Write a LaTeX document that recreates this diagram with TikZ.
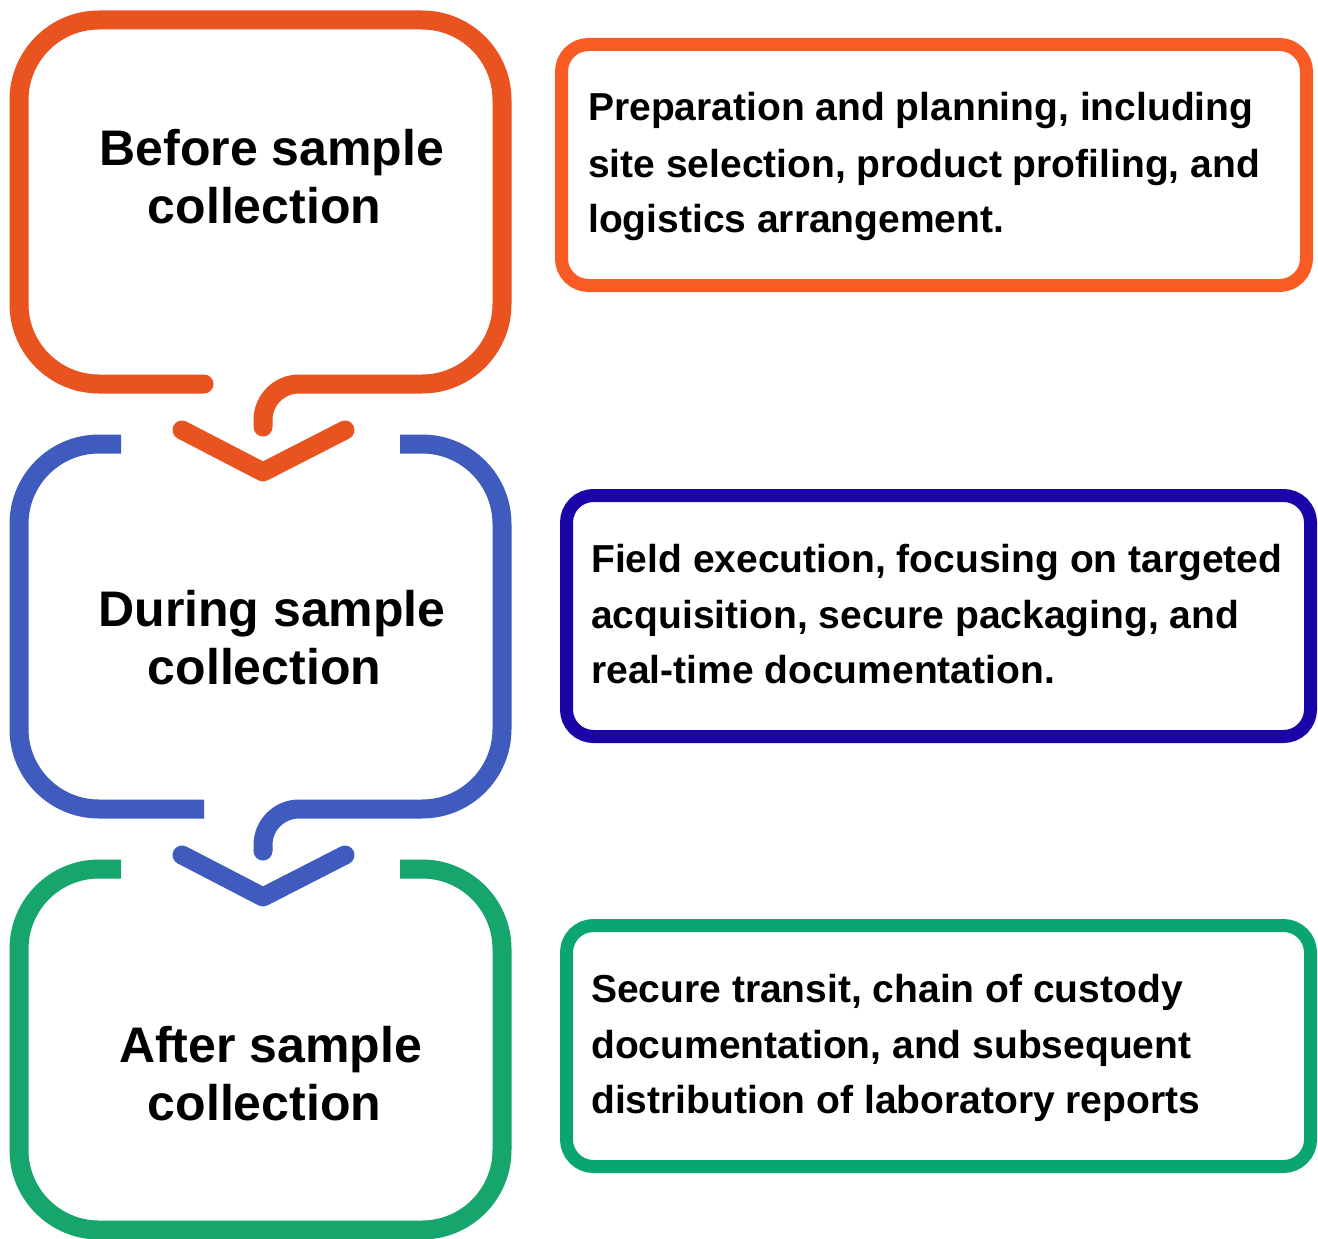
\documentclass[tikz,border=0pt]{standalone}
\usepackage{fontspec}
\setmainfont{Liberation Sans}
\definecolor{orangeS}{HTML}{E8531F}
\definecolor{orangeB}{HTML}{F95B25}
\definecolor{blueS}{HTML}{3F5BBE}
\definecolor{blueB}{HTML}{1A06A8}
\definecolor{greenS}{HTML}{15A56D}
\definecolor{greenB}{HTML}{0BA670}
\tikzset{
  stage/.style={line width=19pt, line join=round},
  chev/.style={line width=19pt, line cap=round, line join=round},
  infobox/.style={line width=13pt, rounded corners=27pt, fill=white},
  stagetext/.style={anchor=base, inner sep=0pt, font=\fontsize{50}{57}\selectfont\bfseries},
  infotext/.style={anchor=base west, inner sep=0pt, font=\fontsize{39}{55}\selectfont\bfseries}
}
\begin{document}
\begin{tikzpicture}[x=1pt,y=-1pt]
\fill[white] (0,0) rectangle (1318,1239);
\useasboundingbox (0,0) rectangle (1318,1239);

% ---- Stage 1 (orange)
\draw[stage, draw=orangeS, line cap=round] (204,384) -- (99,384)
  arc[start angle=90,end angle=180,radius=80] -- (19,100)
  arc[start angle=180,end angle=270,radius=80] -- (422,20)
  arc[start angle=270,end angle=360,radius=80] -- (502,304)
  arc[start angle=0,end angle=90,radius=80] -- (299,384)
  arc[start angle=270,end angle=180,radius=36] -- (263,427);
\draw[chev, draw=orangeS] (182,430) -- (263,472) -- (345,430);

% ---- Stage 2 (blue)
\draw[stage, draw=blueS] (121,444) -- (99,444)
  arc[start angle=270,end angle=180,radius=80] -- (19,729)
  arc[start angle=180,end angle=90,radius=80] -- (204,809);
\draw[stage, draw=blueS] (400,444) -- (422,444)
  arc[start angle=270,end angle=360,radius=80] -- (502,729)
  arc[start angle=0,end angle=90,radius=80] -- (299,809)
  arc[start angle=270,end angle=180,radius=36] -- (263,851);
\fill[blueS] (263,851) circle[radius=9.5];
\draw[chev, draw=blueS] (182,855) -- (263,897) -- (345,855);

% ---- Stage 3 (green)
\draw[stage, draw=greenS] (121,869) -- (99,869)
  arc[start angle=270,end angle=180,radius=80] -- (19,1150)
  arc[start angle=180,end angle=90,radius=80] -- (422,1230)
  arc[start angle=90,end angle=0,radius=80] -- (502,949)
  arc[start angle=0,end angle=-90,radius=80] -- (400,869);

% ---- stage labels
\node[stagetext] (s1a) at (272,165) {Before sample};
\node[stagetext] (s1b) at (264.5,223) {collection};
\node[stagetext] (s2a) at (272,626) {During sample};
\node[stagetext] (s2b) at (264.5,684) {collection};
\node[stagetext] (s3a) at (270.5,1062) {After sample};
\node[stagetext] (s3b) at (264.5,1120) {collection};

% ---- info boxes
\draw[infobox, draw=orangeB] (561.5,44.5) rectangle (1306.5,285.5);
\draw[infobox, draw=blueB] (566.5,495.5) rectangle (1310.5,736.5);
\draw[infobox, draw=greenB] (566.5,925.5) rectangle (1310.5,1166.5);

\node[infotext] (i1a) at (588,121) {Preparation and planning, including};
\node[infotext] (i1b) at (588,177) {site selection, product profiling, and};
\node[infotext] (i1c) at (588,232) {logistics arrangement.};

\node[infotext] (i2a) at (591,572) {Field execution, focusing on targeted};
\node[infotext] (i2b) at (591,628) {acquisition, secure packaging, and};
\node[infotext] (i2c) at (591,683) {real-time documentation.};

\node[infotext] (i3a) at (591,1002) {Secure transit, chain of custody};
\node[infotext] (i3b) at (591,1058) {documentation, and subsequent};
\node[infotext] (i3c) at (591,1113) {distribution of laboratory reports};
\end{tikzpicture}
\end{document}
